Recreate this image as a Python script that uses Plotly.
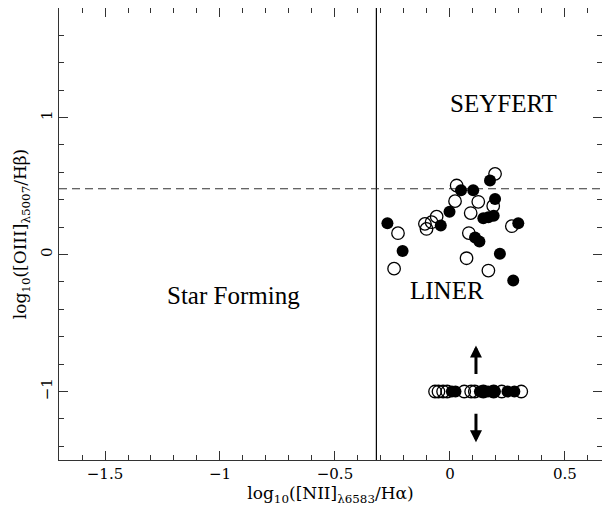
import plotly.graph_objects as go

# ---- data ----
open_x = [0.196, 0.029, 0.022, 0.123, 0.188, 0.090, -0.058, -0.080, -0.109, -0.102,
          -0.226, 0.082, 0.269, 0.072, -0.243, 0.167]
open_y = [0.589, 0.504, 0.390, 0.385, 0.355, 0.303, 0.277, 0.236, 0.224, 0.187,
          0.156, 0.157, 0.207, -0.027, -0.103, -0.117]
filled_x = [0.174, 0.048, 0.101, 0.196, -0.002, 0.145, 0.167, 0.190, -0.040, -0.272,
            0.297, 0.109, 0.128, -0.206, 0.217, 0.275]
filled_y = [0.540, 0.470, 0.470, 0.406, 0.312, 0.265, 0.272, 0.283, 0.212, 0.229,
            0.228, 0.125, 0.095, 0.026, 0.005, -0.190]

# objects with only limits (plotted at log = -1)
limit_open_x = [-0.065, -0.050, -0.030, -0.012, 0.062, 0.092, 0.108, 0.145, 0.190, 0.225, 0.310]
limit_filled_x = [0.008, 0.024, 0.130, 0.150, 0.165, 0.180, 0.195, 0.250, 0.280]
limit_y = -1.0

# limit arrows: x, [tail, tip]
arrow_x = 0.113
arrow_up = [-0.883, -0.664]
arrow_down = [-1.151, -1.370]

# dividing lines
nii_split = -0.32
oiii_split = 0.48

x_range = [-1.7, 0.661]
y_range = [-1.5, 1.8]

region_labels = ["SEYFERT", "LINER", "Star Forming"]
region_x = [0.232, -0.014, -0.942]
region_y = [1.10, -0.263, -0.30]

# ---- figure ----
fig = go.Figure()

fig.add_trace(go.Scatter(
    x=open_x + limit_open_x,
    y=open_y + [limit_y] * len(limit_open_x),
    mode="markers",
    marker=dict(symbol="circle-open", size=12.5, color="black", line=dict(width=1.3, color="black")),
    showlegend=False, hoverinfo="skip"))

fig.add_trace(go.Scatter(
    x=filled_x + limit_filled_x,
    y=filled_y + [limit_y] * len(limit_filled_x),
    mode="markers",
    marker=dict(symbol="circle", size=12, color="black", line=dict(width=0)),
    showlegend=False, hoverinfo="skip"))

# dividing lines
fig.add_shape(type="line", xref="x", yref="y", x0=nii_split, x1=nii_split,
              y0=y_range[0], y1=y_range[1], line=dict(color="black", width=1.2), layer="below")
fig.add_shape(type="line", xref="x", yref="y", x0=x_range[0], x1=x_range[1],
              y0=oiii_split, y1=oiii_split,
              line=dict(color="#333333", width=1.1, dash="8px,5px"), layer="below")

# limit arrows
for tail, tip in (arrow_up, arrow_down):
    fig.add_annotation(x=arrow_x, y=tip, ax=arrow_x, ay=tail, xref="x", yref="y",
                       axref="x", ayref="y", text="", showarrow=True,
                       arrowhead=2, arrowsize=0.8, arrowwidth=3, arrowcolor="black",
                       standoff=0, startstandoff=0)

for t, x, y in zip(region_labels, region_x, region_y):
    fig.add_annotation(x=x, y=y, xref="x", yref="y", text=t, showarrow=False,
                       font=dict(family="Liberation Serif", size=25, color="black"))

axis_common = dict(
    showgrid=False, zeroline=False,
    showline=True, linecolor="#333333", linewidth=1.2, mirror="ticks",
    ticks="inside", ticklen=9, tickwidth=1, tickcolor="#333333",
    tickfont=dict(family="DejaVu Serif", size=15, color="black"),
)

fig.update_xaxes(
    range=x_range, tick0=0, dtick=0.5,
    minor=dict(dtick=0.1, ticks="inside", ticklen=5, tickwidth=1, tickcolor="#333333"),
    title=dict(text="log<sub>10</sub>([NII]<sub>λ6583</sub>/Hα)",
               font=dict(family="DejaVu Serif", size=17, color="black"), standoff=4),
    **axis_common)

fig.update_yaxes(
    range=y_range, tick0=0, dtick=1, tickangle=-90,
    minor=dict(dtick=0.2, ticks="inside", ticklen=5, tickwidth=1, tickcolor="#333333"),
    title=dict(text="log<sub>10</sub>([OIII]<sub>λ5007</sub>/Hβ)",
               font=dict(family="DejaVu Serif", size=17, color="black"), standoff=6),
    **axis_common)

# page body has an 8px margin: figure kept inside the window so no scrollbars appear
fig.update_layout(
    width=594, height=501,
    margin=dict(l=51, r=0, t=0, b=49),
    plot_bgcolor="white", paper_bgcolor="white",
    showlegend=False,
)

fig.write_html("out.html")
